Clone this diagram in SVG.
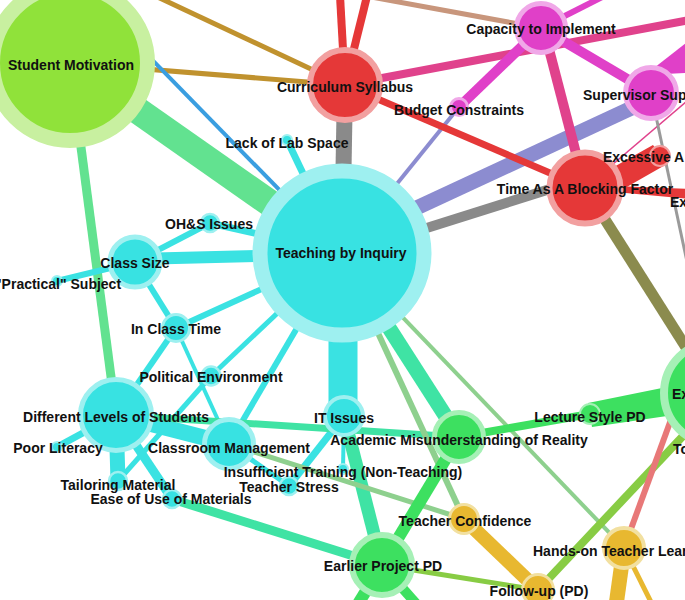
<svg xmlns="http://www.w3.org/2000/svg" width="685" height="600" viewBox="0 0 685 600">
<style>
.e{fill:none;stroke-linecap:butt}
.cy{stroke:#3ae2e2}
.mint{stroke:#3fe3a4}
.sg{stroke:#62e290}
.lg{stroke:#8ed08e}
.gr{stroke:#3de060}
.yg{stroke:#88cc44}
.ye{stroke:#e8b830}
.rd{stroke:#e53838}
.pk{stroke:#e0428c}
.mg{stroke:#e040c8}
.pe{stroke:#8c8cd0}
.gy{stroke:#8a8a8a}
.n-cy{fill:#38e2e2;stroke:#9ef0f0}
.n-rd{fill:#e53838;stroke:#f2a0a0}
.n-mg{fill:#e040c8;stroke:#f0a8e8}
.n-gr{fill:#3de060;stroke:#a6f0b6}
.n-ye{fill:#e8b830;stroke:#f2e0a0}
.n-sm{fill:#90e23a;stroke:#c8f0a0}
text{font-family:"Liberation Sans",Arial,sans-serif;font-weight:bold;font-size:14px;fill:#111}
.c{text-anchor:middle}
</style>
<g id="connectors">
<line class="e" x1="345" y1="85" x2="338" y2="-40" stroke="#e53838" stroke-width="8"/>
<line class="e" x1="345" y1="85" x2="376" y2="-40" stroke="#e53838" stroke-width="8"/>
<line class="e" x1="345" y1="85" x2="100" y2="-30" stroke="#c0922e" stroke-width="5"/>
<line class="e" x1="70" y1="63" x2="345" y2="85" stroke="#c0922e" stroke-width="5"/>
<line class="e" x1="541" y1="28" x2="300" y2="-16" stroke="#c8967c" stroke-width="5"/>
<line class="e" x1="541" y1="28" x2="620" y2="-12" stroke="#e040c8" stroke-width="6"/>
<line class="e pk" x1="345" y1="85" x2="700" y2="18" stroke-width="8"/>
<polygon points="645,75 686,43 686,73" fill="#e040c8"/>
<line class="e" x1="585" y1="188" x2="700" y2="90" stroke="#e0428c" stroke-width="1.5"/>
<line class="e" x1="651" y1="93" x2="715" y2="393" stroke="#9a9a9a" stroke-width="3"/>
<line class="e" x1="341" y1="253" x2="40" y2="-55" stroke="#3a9ee0" stroke-width="4"/>
<line class="e sg" x1="70" y1="63" x2="341" y2="253" stroke-width="27"/>
<line class="e sg" x1="70" y1="63" x2="116" y2="415" stroke-width="9"/>
<line class="e gy" x1="345" y1="85" x2="342" y2="253" stroke-width="16"/>
<line class="e pe" x1="341" y1="243" x2="651" y2="99" stroke-width="15"/>
<line class="e pe" x1="459" y1="107" x2="341" y2="253" stroke-width="4"/>
<line class="e mg" x1="541" y1="28" x2="459" y2="107" stroke-width="10"/>
<line class="e rd" x1="345" y1="85" x2="585" y2="188" stroke-width="7"/>
<line class="e pk" x1="544" y1="30" x2="585" y2="188" stroke-width="10"/>
<line class="e mg" x1="541" y1="28" x2="651" y2="93" stroke-width="10"/>
<line class="e gy" x1="341" y1="255" x2="585" y2="178" stroke-width="10"/>
<line class="e" x1="585" y1="188" x2="715" y2="393" stroke="#8b8b4e" stroke-width="11"/>
<polygon points="612,168 653,145 667,164 618,192" fill="#e53838"/>
<polygon points="615,186 690,189 690,199 615,192" fill="#e53838"/>
<line class="e cy" x1="287" y1="140" x2="341" y2="253" stroke-width="7"/>
<line class="e cy" x1="210" y1="223" x2="341" y2="253" stroke-width="7"/>
<line class="e cy" x1="210" y1="223" x2="135" y2="262" stroke-width="6"/>
<line class="e cy" x1="135" y1="259" x2="341" y2="254" stroke-width="12"/>
<line class="e cy" x1="135" y1="262" x2="57" y2="281" stroke-width="6"/>
<line class="e cy" x1="135" y1="262" x2="176" y2="328" stroke-width="6"/>
<line class="e cy" x1="176" y1="328" x2="341" y2="253" stroke-width="6"/>
<line class="e cy" x1="176" y1="328" x2="116" y2="415" stroke-width="6"/>
<line class="e cy" x1="176" y1="328" x2="229" y2="444" stroke-width="4"/>
<line class="e cy" x1="211" y1="376" x2="341" y2="253" stroke-width="5"/>
<line class="e cy" x1="211" y1="376" x2="118" y2="481" stroke-width="5"/>
<line class="e cy" x1="341" y1="253" x2="229" y2="444" stroke-width="6"/>
<line class="e cy" x1="343" y1="253" x2="343" y2="416" stroke-width="29"/>
<line class="e cy" x1="344" y1="416" x2="289" y2="486" stroke-width="7"/>
<line class="e cy" x1="344" y1="416" x2="343" y2="469" stroke-width="4"/>
<line class="e cy" x1="116" y1="415" x2="229" y2="444" stroke-width="16"/>
<line class="e cy" x1="116" y1="415" x2="57" y2="447" stroke-width="7"/>
<line class="e cy" x1="116" y1="415" x2="118" y2="481" stroke-width="15"/>
<line class="e cy" x1="116" y1="415" x2="172" y2="499" stroke-width="9"/>
<line class="e cy" x1="229" y1="444" x2="289" y2="486" stroke-width="5"/>
<line class="e mint" x1="116" y1="415" x2="459" y2="437" stroke-width="7"/>
<line class="e mint" x1="172" y1="499" x2="382" y2="565" stroke-width="9"/>
<line class="e mint" x1="344" y1="416" x2="382" y2="565" stroke-width="13"/>
<line class="e mint" x1="341" y1="253" x2="459" y2="437" stroke-width="15"/>
<line class="e lg" x1="229" y1="444" x2="464" y2="519" stroke-width="5"/>
<line class="e lg" x1="341" y1="253" x2="464" y2="519" stroke-width="6"/>
<line class="e lg" x1="341" y1="253" x2="624" y2="548" stroke-width="4"/>
<line class="e gr" x1="459" y1="437" x2="382" y2="565" stroke-width="12"/>
<line class="e gr" x1="459" y1="437" x2="590" y2="414" stroke-width="8"/>
<polygon points="588,403 662,388 667,416 592,427" fill="#3de060"/>
<line class="e gr" x1="382" y1="565" x2="345" y2="625" stroke-width="12"/>
<line class="e gr" x1="382" y1="565" x2="435" y2="625" stroke-width="10"/>
<line class="e yg" x1="538" y1="590" x2="700" y2="418" stroke-width="8"/>
<line class="e yg" x1="382" y1="565" x2="538" y2="590" stroke-width="5"/>
<line class="e" x1="624" y1="548" x2="680" y2="395" stroke="#e87878" stroke-width="6"/>
<line class="e ye" x1="464" y1="519" x2="538" y2="590" stroke-width="14"/>
<line class="e ye" x1="624" y1="548" x2="614" y2="620" stroke-width="15"/>
<line class="e ye" x1="624" y1="548" x2="660" y2="620" stroke-width="5"/>
</g>
<g id="n-student-motivation"><circle class="n-sm" cx="70" cy="63" r="77.5" stroke-width="15"/></g>
<g id="n-curriculum-syllabus"><circle class="n-rd" cx="345" cy="85" r="35" stroke-width="6"/></g>
<g id="n-teaching-by-inquiry"><circle class="n-cy" cx="342" cy="253" r="82" stroke-width="15"/></g>
<g id="n-capacity"><circle class="n-mg" cx="541" cy="28" r="24.5" stroke-width="5"/></g>
<g id="n-supervisor"><circle class="n-mg" cx="651" cy="93" r="25.5" stroke-width="5"/></g>
<g id="n-budget"><circle class="n-mg" cx="459" cy="107" r="8.5" stroke-width="3"/></g>
<g id="n-time"><circle class="n-rd" cx="585" cy="188" r="35.5" stroke-width="6"/></g>
<g id="n-excessive"><circle class="n-rd" cx="660" cy="156" r="10" stroke-width="2"/></g>
<g id="n-right-green"><circle class="n-gr" cx="715" cy="393" r="51" stroke-width="8"/></g>
<g id="n-lecture"><circle class="n-gr" cx="590" cy="414" r="10" stroke-width="2"/></g>
<g id="n-academic"><circle class="n-gr" cx="459" cy="437" r="24.5" stroke-width="5"/></g>
<g id="n-it"><circle class="n-cy" cx="344" cy="416" r="19" stroke-width="4"/></g>
<g id="n-class-size"><circle class="n-cy" cx="135" cy="262" r="25" stroke-width="5"/></g>
<g id="n-ohs"><circle class="n-cy" cx="210" cy="223" r="9" stroke-width="2.5"/></g>
<g id="n-practical"><circle class="n-cy" cx="57" cy="281" r="5" stroke-width="2"/></g>
<g id="n-in-class"><circle class="n-cy" cx="176" cy="328" r="13.5" stroke-width="3"/></g>
<g id="n-political"><circle class="n-cy" cx="211" cy="376" r="9.5" stroke-width="2.5"/></g>
<g id="n-different-levels"><circle class="n-cy" cx="116" cy="415" r="35.5" stroke-width="5"/></g>
<g id="n-classroom"><circle class="n-cy" cx="229" cy="444" r="24.5" stroke-width="5"/></g>
<g id="n-poor-literacy"><circle class="n-cy" cx="57" cy="447" r="5" stroke-width="2"/></g>
<g id="n-tailoring"><circle class="n-cy" cx="118" cy="481" r="9" stroke-width="2.5"/></g>
<g id="n-ease"><circle class="n-cy" cx="172" cy="499" r="9" stroke-width="2.5"/></g>
<g id="n-insufficient"><circle class="n-cy" cx="343" cy="469" r="5" stroke-width="2"/></g>
<g id="n-stress"><circle class="n-cy" cx="289" cy="486" r="9" stroke-width="2.5"/></g>
<g id="n-lab-space"><circle class="n-cy" cx="287" cy="140" r="5" stroke-width="2"/></g>
<g id="n-earlier"><circle class="n-gr" cx="382" cy="565" r="30" stroke-width="6"/></g>
<g id="n-confidence"><circle class="n-ye" cx="464" cy="519" r="14.5" stroke-width="3"/></g>
<g id="n-follow-up"><circle class="n-ye" cx="538" cy="590" r="15.5" stroke-width="3"/></g>
<g id="n-hands-on"><circle class="n-ye" cx="624" cy="548" r="20" stroke-width="4"/></g>
<g id="labels">
<text class="c" x="71" y="70">Student Motivation</text>
<text class="c" x="345" y="92">Curriculum Syllabus</text>
<text class="c" x="541" y="34">Capacity to Implement</text>
<text class="c" x="459" y="115">Budget Constraints</text>
<text x="583" y="100">Supervisor Sup</text>
<text class="c" x="287" y="148">Lack of Lab Space</text>
<text x="603" y="162">Excessive A</text>
<text class="c" x="585" y="194">Time As A Blocking Factor</text>
<text x="670" y="207">Ex</text>
<text class="c" x="341" y="258">Teaching by Inquiry</text>
<text class="c" x="209" y="229">OH&amp;S Issues</text>
<text class="c" x="135" y="268">Class Size</text>
<text class="c" x="58" y="289">"Practical" Subject</text>
<text class="c" x="176" y="334">In Class Time</text>
<text class="c" x="211" y="382">Political Environment</text>
<text class="c" x="116" y="422">Different Levels of Students</text>
<text class="c" x="58" y="453">Poor Literacy</text>
<text class="c" x="229" y="453">Classroom Management</text>
<text class="c" x="344" y="423">IT Issues</text>
<text class="c" x="459" y="445">Academic Misunderstanding of Reality</text>
<text class="c" x="590" y="422">Lecture Style PD</text>
<text class="c" x="343" y="477">Insufficient Training (Non-Teaching)</text>
<text class="c" x="289" y="492">Teacher Stress</text>
<text class="c" x="118" y="490">Tailoring Material</text>
<text class="c" x="171" y="504">Ease of Use of Materials</text>
<text class="c" x="465" y="526">Teacher Confidence</text>
<text class="c" x="383" y="571">Earlier Project PD</text>
<text x="533" y="556">Hands-on Teacher Lear</text>
<text class="c" x="539" y="596">Follow-up (PD)</text>
<text x="672" y="399">Ex</text>
<text x="673" y="454">To</text>
</g>
</svg>
